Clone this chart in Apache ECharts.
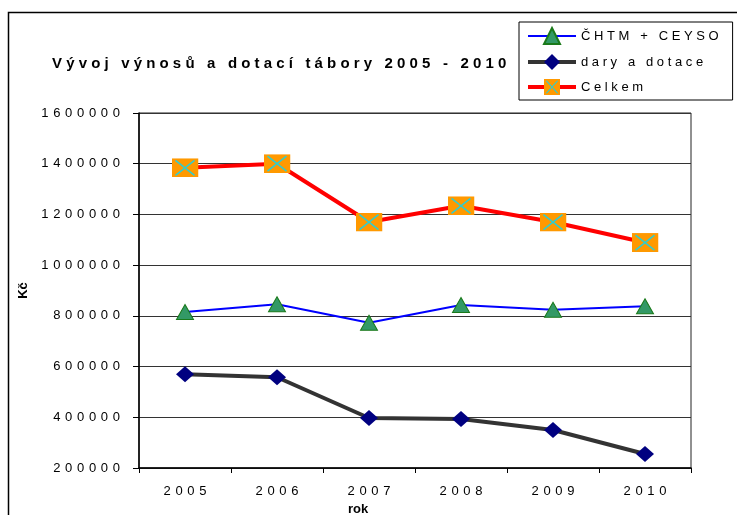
<!DOCTYPE html>
<html lang="cs">

<head>
    <meta charset="UTF-8">
    <title>Vývoj výnosů a dotací tábory</title>
    <script src="https://cdn.jsdelivr.net/npm/echarts@6.0.0/dist/echarts.min.js"></script>
    <style>
        html, body { margin: 0; padding: 0; background: #fff; }
        #chart { width: 737px; height: 515px; }
    </style>
</head>

<body>
    <div id="chart"></div>

    <script type="text/javascript">
        // data
        var years = ['2005', '2006', '2007', '2008', '2009', '2010'];
        var chtm = [815000, 846000, 773000, 843000, 824000, 838000];
        var dary = [570000, 558000, 397000, 393000, 350000, 255000];
        var celkem = [1384000, 1400000, 1170000, 1234000, 1170000, 1089000];
        var seriesNames = ['ČHTM + CEYSO', 'dary a dotace', 'Celkem'];

        // letter spaced text, like the old office chart
        function spaced(s, gap) {
            return s.split('').join(gap === undefined ? ' \u200A' : gap);
        }

        // orange square with a cyan cross
        var boxSvg = '<svg xmlns="http://www.w3.org/2000/svg" width="27" height="19" viewBox="0 0 27 19">' +
            '<rect width="27" height="19" fill="#FF9900"/>' +
            '<path d="M4 2 L23 17 M23 2 L4 17" stroke="#33CCCC" stroke-width="1.6" fill="none"/></svg>';
        var boxSymbol = 'image://data:image/svg+xml;charset=utf-8,' + encodeURIComponent(boxSvg);

        var myChart = echarts.init(document.getElementById('chart'));

        var option = {
            animation: false,
            textStyle: { fontFamily: 'Liberation Sans, Arial, sans-serif', color: '#000' },
            title: {
                text: spaced('Vývoj výnosů a dotací tábory 2005 - 2010', ' '),
                left: 47,
                top: 51,
                textStyle: { fontSize: 15, fontWeight: 'bold', color: '#000' }
            },
            legend: {
                orient: 'vertical',
                left: 519,
                top: 22,
                padding: [5, 14, 5, 7],
                itemGap: 9,
                itemWidth: 48,
                itemHeight: 20,
                borderColor: '#000',
                borderWidth: 1,
                data: [
                    { name: seriesNames[0], lineStyle: { color: '#0000FF', width: 2 } },
                    { name: seriesNames[1], lineStyle: { color: '#333333', width: 4 } },
                    { name: seriesNames[2], lineStyle: { color: '#FF0000', width: 4 } }
                ],
                formatter: function (name) { return spaced(name, ' '); },
                textStyle: { fontSize: 13, color: '#000' }
            },
            grid: {
                left: 139,
                right: 46,
                top: 113,
                bottom: 47,
                outerBoundsMode: 'none',
                show: true,
                borderColor: '#222',
                borderWidth: 1
            },
            xAxis: {
                type: 'category',
                data: years,
                boundaryGap: true,
                name: 'rok',
                nameLocation: 'middle',
                nameGap: 28,
                nameTextStyle: { fontSize: 13, fontWeight: 'bold', color: '#000', padding: [0, 114, 0, 0] },
                axisLine: { lineStyle: { color: '#000', width: 1.5 } },
                axisTick: { show: true, length: 5, alignWithLabel: false, lineStyle: { color: '#000' } },
                axisLabel: {
                    fontSize: 13, color: '#000', margin: 17,
                    formatter: function (v) { return spaced(v); }
                }
            },
            yAxis: {
                type: 'value',
                min: 200000,
                max: 1600000,
                interval: 200000,
                name: 'Kč',
                nameLocation: 'middle',
                nameGap: 100,
                nameRotate: 90,
                nameTextStyle: { fontSize: 13, fontWeight: 'bold', color: '#000' },
                axisLine: { show: true, lineStyle: { color: '#000', width: 1.5 } },
                axisTick: { show: true, length: 6, lineStyle: { color: '#000' } },
                axisLabel: {
                    fontSize: 13, color: '#000', margin: 19,
                    formatter: function (v) { return spaced(String(v)); }
                },
                splitLine: { show: true, lineStyle: { color: '#333', width: 1 } }
            },
            series: [
                {
                    name: seriesNames[0],
                    type: 'line',
                    data: chtm,
                    symbol: 'triangle',
                    symbolSize: [17, 15],
                    lineStyle: { color: '#0000FF', width: 2 },
                    itemStyle: { color: '#339966', borderColor: '#1a7a1a', borderWidth: 1 },
                    z: 3
                },
                {
                    name: seriesNames[1],
                    type: 'line',
                    data: dary,
                    symbol: 'diamond',
                    symbolSize: [18, 16],
                    lineStyle: { color: '#333333', width: 4 },
                    itemStyle: { color: '#000080', borderColor: '#000080', borderWidth: 0 },
                    z: 3
                },
                {
                    name: seriesNames[2],
                    type: 'line',
                    data: celkem,
                    symbol: boxSymbol,
                    symbolSize: [27, 19],
                    lineStyle: { color: '#FF0000', width: 4 },
                    itemStyle: { color: '#FF9900' },
                    z: 3
                }
            ],
            graphic: [
                {
                    // outer chart frame
                    type: 'rect',
                    shape: { x: 8.5, y: 12.5, width: 740, height: 520 },
                    style: { fill: 'none', stroke: '#000', lineWidth: 1.5 },
                    silent: true,
                    z: -1
                }
            ]
        };

        myChart.setOption(option);
    </script>
</body>

</html>
